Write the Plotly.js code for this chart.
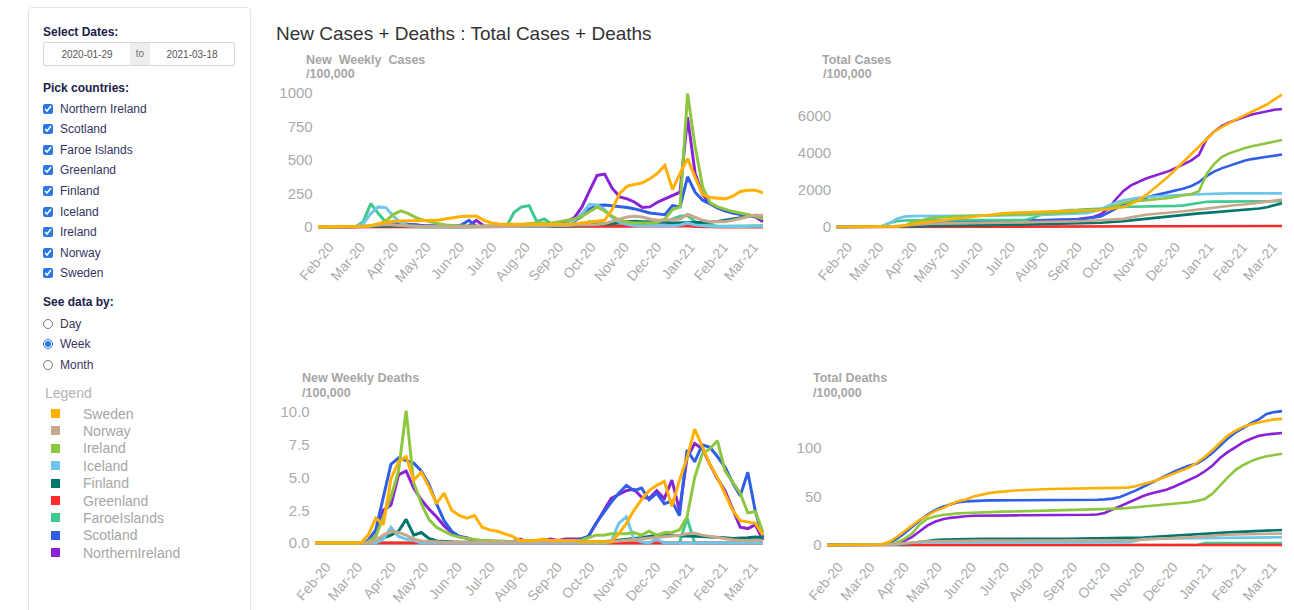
<!DOCTYPE html>
<html><head><meta charset="utf-8">
<script src="https://cdn.plot.ly/plotly-3.0.1.min.js"></script>
<style>
html,body{margin:0;padding:0;background:#fff;width:1294px;height:610px;overflow:hidden;font-family:"Liberation Sans",Arial,sans-serif;}
#chart{position:absolute;left:0;top:0;width:1294px;height:610px;z-index:1;}
#side{position:absolute;left:28px;top:7px;width:221px;height:640px;border:1px solid #e4e4e4;border-radius:4px;background:#fff;box-shadow:0 1px 2px rgba(0,0,0,0.04);z-index:2;}
.h{position:absolute;left:14px;font-size:12px;line-height:14px;font-weight:bold;color:#20204a;white-space:nowrap;}
.dates{position:absolute;left:14px;top:34px;width:192px;height:24px;display:flex;}
.dates input{box-sizing:border-box;height:24px;border:1px solid #d6d6d6;font-size:10px;color:#555;text-align:center;font-family:"Liberation Sans",Arial,sans-serif;padding:0;margin:0;outline:none;}
.dates .d1{width:87px;border-radius:3px 0 0 3px;border-right:none;}
.dates .d2{width:85px;border-radius:0 3px 3px 0;border-left:none;}
.dates .to{width:20px;height:24px;box-sizing:border-box;background:#eee;border-top:1px solid #d6d6d6;border-bottom:1px solid #d6d6d6;font-size:10px;color:#777;line-height:22px;text-align:center;}
.row{position:absolute;left:14px;height:16px;display:flex;align-items:center;font-size:12px;color:#35355f;white-space:nowrap;}
.row input{margin:0 7px 0 0;width:10px;height:10px;accent-color:#2b78e4;}
.leg{position:absolute;left:16px;font-size:14px;line-height:16px;color:#b3b3b3;}
.li{position:absolute;left:22px;height:16px;display:flex;align-items:center;font-size:14px;color:#a6a6a6;white-space:nowrap;}
.li span.sq{display:inline-block;width:9px;height:9px;margin-right:23px;}
</style>
</head><body>
<div id="chart"></div>
<div id="side">
  <div class="h" style="top:17px">Select Dates:</div>
  <div class="dates"><input class="d1" value="2020-01-29"><div class="to">to</div><input class="d2" value="2021-03-18"></div>
  <div class="h" style="top:73px">Pick countries:</div>
  <div id="checks"></div>
  <div class="h" style="top:287px">See data by:</div>
  <div id="radios"></div>
  <div class="leg" style="top:377px">Legend</div>
  <div id="legend"></div>
</div>
<script>
// ---------------- data ----------------
const dates = ['2020-01-29','2020-02-05','2020-02-12','2020-02-19','2020-02-26','2020-03-04','2020-03-11','2020-03-18','2020-03-25','2020-04-01',
 '2020-04-08','2020-04-15','2020-04-22','2020-04-29','2020-05-06','2020-05-13','2020-05-20','2020-05-27','2020-06-03','2020-06-10',
 '2020-06-17','2020-06-24','2020-07-01','2020-07-08','2020-07-15','2020-07-22','2020-07-29','2020-08-05','2020-08-12','2020-08-19',
 '2020-08-26','2020-09-02','2020-09-09','2020-09-16','2020-09-23','2020-09-30','2020-10-07','2020-10-14','2020-10-21','2020-10-28',
 '2020-11-04','2020-11-11','2020-11-18','2020-11-25','2020-12-02','2020-12-09','2020-12-16','2020-12-23','2020-12-30','2021-01-06',
 '2021-01-13','2021-01-20','2021-01-27','2021-02-03','2021-02-10','2021-02-17','2021-02-24','2021-03-03','2021-03-10','2021-03-17'];

const countries = ['Sweden','Norway','Ireland','Iceland','Finland','Greenland','FaroeIslands','Scotland','NorthernIreland'];
const pickList = ['Northern Ireland','Scotland','Faroe Islands','Greenland','Finland','Iceland','Ireland','Norway','Sweden'];
const periods = ['Day','Week','Month'];
const startDate = '2020-01-29', endDate = '2021-03-18';

// New weekly cases /100,000
const wcSweden = [0,0,0,0,0,1,5,12,25,35, 42,47,47,47,47,47,52,62,72,78, 80,82,50,30,22,20,20,20,20,20, 18,18,20,22,25,30,35,40,50,130, 250,305,320,330,360,400,460,280,400,510, 370,240,220,215,210,230,265,275,275,255];
const wcNorway = [0,0,0,0,0,1,3,10,15,18, 15,10,8,6,4,3,2,2,2,2, 2,2,2,2,2,3,3,5,8,8, 8,8,10,12,14,15,16,18,25,40, 60,75,80,75,60,50,50,55,60,95, 70,50,40,38,40,50,65,80,90,85];
const wcIreland = [0,0,0,0,0,0,1,5,20,45, 95,120,100,70,50,35,25,15,10,8, 7,6,5,6,8,10,15,20,25,30, 28,30,40,50,60,80,115,150,120,80, 50,35,30,28,30,35,60,130,150,995, 600,300,180,150,130,115,105,95,80,60];
const wcIceland = [0,0,0,0,0,3,25,100,150,145, 80,30,10,5,2,1,1,1,1,1, 2,2,2,2,3,3,5,8,10,8, 6,8,15,25,50,100,170,165,130,70, 35,20,12,10,10,8,7,10,15,30, 15,8,5,4,3,3,3,4,5,5];
const wcFinland = [0,0,0,0,0,0,0,3,5,8, 10,10,9,8,6,5,4,3,2,2, 2,2,2,2,2,2,2,2,2,2, 2,4,6,8,10,12,15,18,20,25, 35,40,42,40,40,38,35,30,30,35, 35,32,35,42,50,60,70,80,85,85];
const wcGreenland = [0,0,0,0,0,0,0,0,0,5, 3,2,0,0,0,0,0,0,0,0, 0,0,0,0,0,0,0,0,0,0, 0,0,0,0,0,0,0,0,2,3, 5,6,8,10,8,7,8,10,12,10, 4,2,0,0,0,0,0,0,0,0];
const wcFaroe = [0,0,0,0,0,2,40,175,100,35, 15,5,2,0,0,0,0,0,0,0, 0,0,0,0,0,5,110,150,160,40, 60,20,10,5,8,15,40,35,20,15, 10,10,15,20,25,30,40,60,80,85, 40,20,10,5,5,5,5,5,10,10];
const wcScotland = [0,0,0,0,0,0,1,3,8,15, 20,22,20,15,10,7,5,4,3,15, 50,5,3,3,3,4,5,8,12,10, 10,12,18,28,45,80,135,160,165,160, 152,145,135,118,105,98,92,160,150,375, 260,200,175,145,118,105,95,88,80,75];
const wcNI = [0,0,0,0,0,0,0,1,5,12, 22,25,22,15,10,7,5,4,3,3, 8,50,8,5,5,6,8,10,12,15, 20,25,30,40,70,150,270,385,395,290, 225,210,185,145,150,185,210,235,260,820, 400,240,175,140,120,105,95,85,75,40];

// Total cases /100,000
const tcSweden = [0,0,0,0,0,2,5,15,35,80, 170,220,270,315,360,400,440,480,530,570, 630,690,745,775,790,800,810,820,830,845, 860,875,890,905,920,935,960,1000,1080,1240, 1450,1720,2050,2400,2750,3150,3550,3950,4350,4800, 5150,5400,5620,5820,6030,6230,6420,6620,6900,7150];
const tcNorway = [0,0,0,0,0,1,5,20,50,90, 125,150,170,185,195,205,212,218,222,226, 230,234,238,242,246,250,255,262,270,280, 290,300,310,325,340,355,375,400,440,520, 600,660,700,730,760,810,855,900,950,1020, 1080,1120,1160,1190,1220,1260,1310,1370,1430,1480];
const tcIreland = [0,0,0,0,0,0,1,5,25,70, 250,330,440,500,540,570,585,595,605,615, 625,635,642,650,658,668,680,695,712,735, 760,790,825,860,890,920,1030,1180,1300,1370, 1420,1460,1490,1530,1570,1630,1700,1780,1930,2850, 3400,3780,3980,4140,4260,4370,4460,4550,4640,4700];
const tcIceland = [0,0,0,0,0,5,50,200,450,560, 590,600,600,605,605,610,610,610,610,612, 615,618,620,622,625,630,640,650,660,670, 680,690,710,750,830,950,1150,1330,1450,1530, 1580,1620,1650,1680,1700,1720,1740,1760,1780,1800, 1810,1815,1820,1820,1820,1820,1820,1820,1820,1820];
const tcFinland = [0,0,0,0,0,0,1,5,12,20, 30,40,50,60,70,80,88,95,100,105, 110,115,120,125,130,135,140,145,150,158, 165,175,188,200,215,230,250,275,310,360, 405,450,495,540,580,620,660,700,735,765, 795,825,855,885,915,955,1000,1070,1160,1280];
const tcGreenland = [0,0,0,0,0,0,0,0,0,10, 18,20,20,20,20,20,20,20,20,20, 20,20,20,20,20,20,20,20,20,20, 20,20,20,20,20,20,20,20,22,25, 28,32,36,40,42,44,46,48,50,52, 53,54,55,55,55,55,55,55,55,55];
const tcFaroe = [0,0,0,0,0,2,40,215,315,350, 365,370,372,372,372,372,372,372,372,372, 372,372,372,372,372,377,490,640,800,840, 900,920,930,940,960,1000,1050,1080,1090,1095, 1100,1105,1110,1115,1120,1140,1170,1230,1310,1360, 1370,1375,1378,1380,1380,1380,1382,1385,1390,1395];
const tcScotland = [0,0,0,0,0,0,1,5,15,40, 80,120,160,190,215,235,250,260,268,280, 310,330,335,338,341,345,350,358,370,380, 390,402,420,448,493,573,780,990,1200,1350, 1480,1600,1700,1790,1880,1980,2080,2220,2420,2750, 2990,3170,3320,3470,3580,3670,3740,3800,3860,3920];
const tcNI = [0,0,0,0,0,0,0,0,10,25, 60,100,140,170,195,210,220,230,240,250, 260,290,300,305,310,315,320,330,340,355, 375,400,430,470,540,690,1000,1500,1950,2250, 2450,2620,2760,2880,3020,3200,3400,3600,3900,4750, 5150,5450,5650,5820,5950,6080,6180,6270,6340,6380];

// New weekly deaths /100,000
const wdSweden = [0,0,0,0,0,0,0,0.6,1.9,1.4, 4.9,6.2,6.6,4.8,5.4,4.3,3.0,3.8,2.5,2.1, 1.9,2.1,1.2,1.0,0.9,0.7,0.5,0.2,0.2,0.2, 0.3,0.2,0.2,0.2,0.2,0.1,0.1,0.1,0.1,0.1, 0.7,1.5,2.5,3.3,4.0,4.4,4.7,2.8,4.8,6.5, 8.7,7.3,6.0,5.0,3.8,2.5,1.7,1.6,1.5,0.6];
const wdNorway = [0,0,0,0,0,0,0,0,0.2,0.6, 0.9,0.8,0.6,0.3,0.15,0.1,0.05,0.05,0.05,0.05, 0.05,0.05,0.05,0.05,0.05,0.05,0.05,0.05,0.05,0.05, 0.05,0.05,0.05,0.05,0.05,0.05,0.1,0.1,0.1,0.1, 0.15,0.2,0.25,0.3,0.35,0.4,0.45,0.5,0.6,0.7, 0.75,0.6,0.5,0.4,0.3,0.25,0.2,0.2,0.2,0.2];
const wdIreland = [0,0,0,0,0,0,0,0.1,0.5,2.0, 3.5,5.5,10.1,4.6,3.0,1.8,1.2,0.9,0.6,0.45, 0.35,0.3,0.2,0.2,0.15,0.15,0.1,0.1,0.1,0.1, 0.1,0.15,0.15,0.2,0.2,0.2,0.4,0.6,0.6,0.7, 0.7,0.7,0.8,0.6,0.9,0.6,0.8,0.8,1.0,2.0, 5.0,6.8,7.2,7.8,5.5,4.6,3.8,2.3,2.4,0.8];
const wdIceland = [0,0,0,0,0,0,0,0,0,0.3, 1.2,0.5,0.3,0.2,0,0,0,0,0,0, 0,0,0,0,0,0,0,0,0,0, 0,0,0,0,0,0,0,0,0,0.1, 1.5,2.0,0.3,0.1,0,0.3,0,0,0,0, 0,0,0,0,0,0,0,0,0,0];
const wdFinland = [0,0,0,0,0,0,0,0,0.1,0.4, 0.6,0.9,1.8,0.6,0.8,0.35,0.15,0.1,0.05,0.05, 0.05,0.05,0.05,0.05,0.05,0.05,0.05,0.05,0.05,0.05, 0.05,0.05,0.05,0.05,0.05,0.05,0.05,0.05,0.1,0.15, 0.2,0.3,0.35,0.4,0.5,0.6,0.55,0.6,0.55,0.55, 0.5,0.5,0.45,0.45,0.4,0.35,0.35,0.4,0.45,0.4];
const wdGreenland = [0,0,0,0,0,0,0,0,0,0, 0,0,0,0,0,0,0,0,0,0, 0,0,0,0,0,0,0,0,0,0, 0,0,0,0,0,0,0,0,0,0, 0,0,0,0,0,0,0,0,0,0, 0,0,0,0,0,0,0,0,0,0];
const wdFaroe = [0,0,0,0,0,0,0,0,0,0, 0,0,0,0,0,0,0,0,0,0, 0,0,0,0,0,0,0,0,0,0, 0,0,0,0,0,0,0,0,0,0, 0,0,0,0,0,0,0,0,0,1.9, 0,0,0,0,0,0,0,0,0,0];
const wdScotland = [0,0,0,0,0,0,0,0.2,1.0,3.5, 6.0,6.5,6.3,6.1,5.5,4.5,3.0,1.7,0.9,0.5, 0.35,0.2,0.15,0.1,0.1,0.1,0.1,0.1,0.1,0.1, 0.1,0.1,0.1,0.1,0.15,0.3,0.5,1.5,2.3,3.1, 3.8,4.4,4.0,4.2,3.3,3.8,3.0,3.2,2.1,7.1, 6.2,7.5,7.3,6.6,5.8,4.6,3.6,5.4,2.4,0.4];
const wdNI = [0,0,0,0,0,0,0,0,0.5,2.5, 2.9,5.2,5.5,4.2,3.3,2.6,2.0,1.3,0.8,0.5, 0.4,0.2,0.1,0.1,0.1,0.1,0.1,0.3,0.1,0.1, 0.2,0.3,0.2,0.3,0.3,0.3,0.5,1.5,2.5,3.4, 3.7,4.0,4.1,3.5,3.4,4.0,3.4,4.8,2.5,6.5, 7.6,7.2,6.0,4.9,4.0,2.6,1.2,1.1,1.4,0.2];

// Total deaths /100,000
const tdSweden = [0,0,0,0,0,0,0,0.5,3,8, 14,20,26,30,35,38,42,45,47,50, 52,53.5,54.5,55.5,56,56.5,57,57.3,57.5,57.7, 57.9,58.1,58.2,58.3,58.4,58.5,58.6,58.7,58.8,59.2, 60.5,62.5,65,67.5,70.5,74,77,80,85,91, 98,106,113,118,122,124.5,126.5,128,129.5,130];
const tdNorway = [0,0,0,0,0,0,0,0,0.3,1, 2,2.8,3.4,3.8,4,4.2,4.3,4.4,4.4,4.5, 4.5,4.5,4.5,4.5,4.5,4.5,4.6,4.6,4.6,4.6, 4.6,4.7,4.7,4.7,4.8,4.8,4.8,4.9,4.9,5, 5.2,5.5,5.8,6.2,6.5,7,7.5,8,8.5,9.2, 9.8,10.3,10.6,10.9,11.1,11.3,11.5,11.6,11.7,11.8];
const tdIreland = [0,0,0,0,0,0,0,0,0.5,2.5, 6,11.5,21,27,29.5,31,32,32.6,33,33.4, 33.7,34,34.2,34.4,34.6,34.8,35,35.2,35.4,35.6, 35.8,36,36.1,36.2,36.3,36.4,36.6,36.9,37.5,38.2, 38.9,39.6,40.4,41,41.7,42.5,43.3,44.1,45.5,47.5, 53,62,70,77.5,82.5,86.5,89.5,91.5,93,94];
const tdIceland = [0,0,0,0,0,0,0,0,0,0.5, 1.7,2.4,2.7,2.7,2.7,2.7,2.7,2.7,2.7,2.7, 2.7,2.7,2.7,2.7,2.7,2.7,2.7,2.7,2.7,2.7, 2.7,2.7,2.7,2.7,2.7,2.7,2.7,2.7,2.7,2.8, 4.2,6.2,6.5,6.6,6.6,6.9,6.9,7,7.2,7.5, 7.5,7.6,7.6,7.7,7.7,7.8,7.8,7.9,7.9,8];
const tdFinland = [0,0,0,0,0,0,0,0,0,0.5, 1,2,3.5,4.3,5,5.5,5.8,6,6.2,6.3, 6.3,6.3,6.4,6.4,6.4,6.4,6.5,6.5,6.5,6.5, 6.5,6.5,6.6,6.6,6.6,6.6,6.7,6.8,6.9,7.1, 7.5,7.8,8.2,8.6,9,9.5,10,10.5,11,11.5, 12,12.5,13,13.4,13.8,14.2,14.5,14.9,15.2,15.5];
const tdGreenland = [0,0,0,0,0,0,0,0,0,0, 0,0,0,0,0,0,0,0,0,0, 0,0,0,0,0,0,0,0,0,0, 0,0,0,0,0,0,0,0,0,0, 0,0,0,0,0,0,0,0,0,0, 0,0,0,0,0,0,0,0,0,0];
const tdFaroe = [0,0,0,0,0,0,0,0,0,0, 0,0,0,0,0,0,0,0,0,0, 0,0,0,0,0,0,0,0,0,0, 0,0,0,0,0,0,0,0,0,0, 0,0,0,0,0,0,0,0,0,2, 2,2,2,2,2,2,2,2,2,2];
const tdScotland = [0,0,0,0,0,0,0,0.3,2,6, 12,19,25,31,36,39.5,42,44,45,45.5, 45.8,46,46,46,46.1,46.1,46.2,46.2,46.2,46.3, 46.3,46.3,46.4,46.4,46.5,46.7,47,47.8,49.5,52.5, 56,60,64,68,72,75.5,79,82,84,89, 95,103,110,116,121,125.5,129.5,135,137,138];
const tdNI = [0,0,0,0,0,0,0,0,0.3,2, 4,8,14,20,24,26.5,28,29,29.7,30.1, 30.3,30.4,30.5,30.5,30.6,30.6,30.7,30.7,30.8,30.8, 30.9,30.9,31,31,31.2,31.5,33,36.5,40,44, 47.5,50.5,53,55,57,60,63.5,67,71,76, 82,90,96,101,106,109.5,112.5,114,115,115.5];

// ---------------- styles ----------------
const colors = ['#ffb000','#c8a88c','#8dc63f','#6ec6ea','#00766c','#ff2b2b','#3ec98f','#2f5fe6','#8a22d6'];
const W = 1294, H = 610;
const FONT = '"Liberation Sans", Arial, sans-serif';
const tickColor = '#ababab';

// ---------------- sidebar ----------------
const checks = document.getElementById('checks');
pickList.forEach((name, k) => {
  const r = document.createElement('label');
  r.className = 'row';
  r.style.top = (108.5 + 20.6 * k - 16) + 'px';
  r.innerHTML = '<input type="checkbox" checked>' + name;
  checks.appendChild(r);
});
const radios = document.getElementById('radios');
periods.forEach((p, k) => {
  const r = document.createElement('label');
  r.className = 'row';
  r.style.top = (323.5 + 20.6 * k - 16) + 'px';
  r.innerHTML = '<input type="radio" name="per"' + (p === 'Week' ? ' checked' : '') + '>' + p;
  radios.appendChild(r);
});
const leg = document.getElementById('legend');
countries.forEach((c, k) => {
  const d = document.createElement('div');
  d.className = 'li';
  d.style.top = (413.5 + 17.4 * k - 16) + 'px';
  d.innerHTML = '<span class="sq" style="background:' + colors[k] + '"></span>' + c;
  leg.appendChild(d);
});

// ---------------- chart ----------------
const panels = [
  {series:[wcSweden,wcNorway,wcIreland,wcIceland,wcFinland,wcGreenland,wcFaroe,wcScotland,wcNI], xa:'x',  ya:'y',  w:3},
  {series:[tcSweden,tcNorway,tcIreland,tcIceland,tcFinland,tcGreenland,tcFaroe,tcScotland,tcNI], xa:'x2', ya:'y2', w:2.6},
  {series:[wdSweden,wdNorway,wdIreland,wdIceland,wdFinland,wdGreenland,wdFaroe,wdScotland,wdNI], xa:'x3', ya:'y3', w:3},
  {series:[tdSweden,tdNorway,tdIreland,tdIceland,tdFinland,tdGreenland,tdFaroe,tdScotland,tdNI], xa:'x4', ya:'y4', w:2.6}
];
const traces = [];
panels.forEach(p => {
  for (let k = countries.length - 1; k >= 0; k--) {
    traces.push({type:'scatter', mode:'lines', x:dates, y:p.series[k], xaxis:p.xa, yaxis:p.ya,
      name:countries[k], showlegend:false, line:{color:colors[k], width:p.w, shape:'linear'}});
  }
});

const R0 = '2020-01-25', R1 = '2021-03-21';
function xax(firstPx, lastPx, anchor) {
  const perDay = (lastPx - firstPx) / 413;
  return {domain:[(firstPx - 4 * perDay) / W, (lastPx + 4 * perDay) / W], anchor:anchor, type:'date',
    range:[R0, R1], tick0:'2020-02-01', dtick:'M1', tickformat:'%b-%y', tickangle:-50, ticklabelshift:8,
    showgrid:false, zeroline:false, showline:false, ticks:'', fixedrange:true,
    tickfont:{family:FONT, size:14, color:tickColor}};
}
function yax(topPx, botPx, zeroPx, refVal, refPx, dtick, anchor, fmt) {
  const ppu = (zeroPx - refPx) / refVal;
  const a = {domain:[1 - botPx / H, 1 - topPx / H], anchor:anchor,
    range:[-(botPx - zeroPx) / ppu, (zeroPx - topPx) / ppu], tick0:0, dtick:dtick,
    showgrid:false, zeroline:false, showline:false, ticks:'', fixedrange:true,
    tickfont:{family:FONT, size:15, color:tickColor}};
  if (fmt) a.tickformat = fmt;
  return a;
}

function sub(text, xPx, yPx) {
  return {text:text, xref:'paper', yref:'paper', x:xPx / W, y:1 - yPx / H, xanchor:'left', yanchor:'middle',
    showarrow:false, font:{family:FONT, size:12.5, color:'#a6a6a6', weight:'bold'}};
}

const layout = {
  width:W, height:H, margin:{l:0, r:0, t:0, b:0},
  paper_bgcolor:'rgba(0,0,0,0)', plot_bgcolor:'rgba(0,0,0,0)',
  font:{family:FONT},
  showlegend:false,
  title:{text:'New Cases + Deaths : Total Cases + Deaths', x:276 / W, xanchor:'left', xref:'paper',
    y:1 - 33 / H, yanchor:'middle', yref:'paper', font:{family:FONT, size:19, color:'#333333'}},
  xaxis: xax(318, 763, 'y'),
  yaxis: yax(85, 235, 227, 1000, 93, 250, 'x'),
  xaxis2: xax(836.5, 1282, 'y2'),
  yaxis2: yax(85, 235, 227, 6000, 116, 2000, 'x2'),
  xaxis3: xax(315, 763, 'y3'),
  yaxis3: yax(400, 555, 543, 10, 412, 2.5, 'x3', '.1f'),
  xaxis4: xax(827, 1282, 'y4'),
  yaxis4: yax(400, 555, 545, 100, 448, 50, 'x4'),
  annotations:[
    sub('New\u00a0 Weekly\u00a0 Cases', 304, 60), sub('/100,000', 304, 74),
    sub('Total Cases', 820, 60), sub('/100,000', 821, 74),
    sub('New Weekly Deaths', 300, 378), sub('/100,000', 300, 393),
    sub('Total Deaths', 811, 378), sub('/100,000', 811, 393)
  ]
};

Plotly.newPlot('chart', traces, layout, {displayModeBar:false, responsive:false});
</script>
</body></html>
